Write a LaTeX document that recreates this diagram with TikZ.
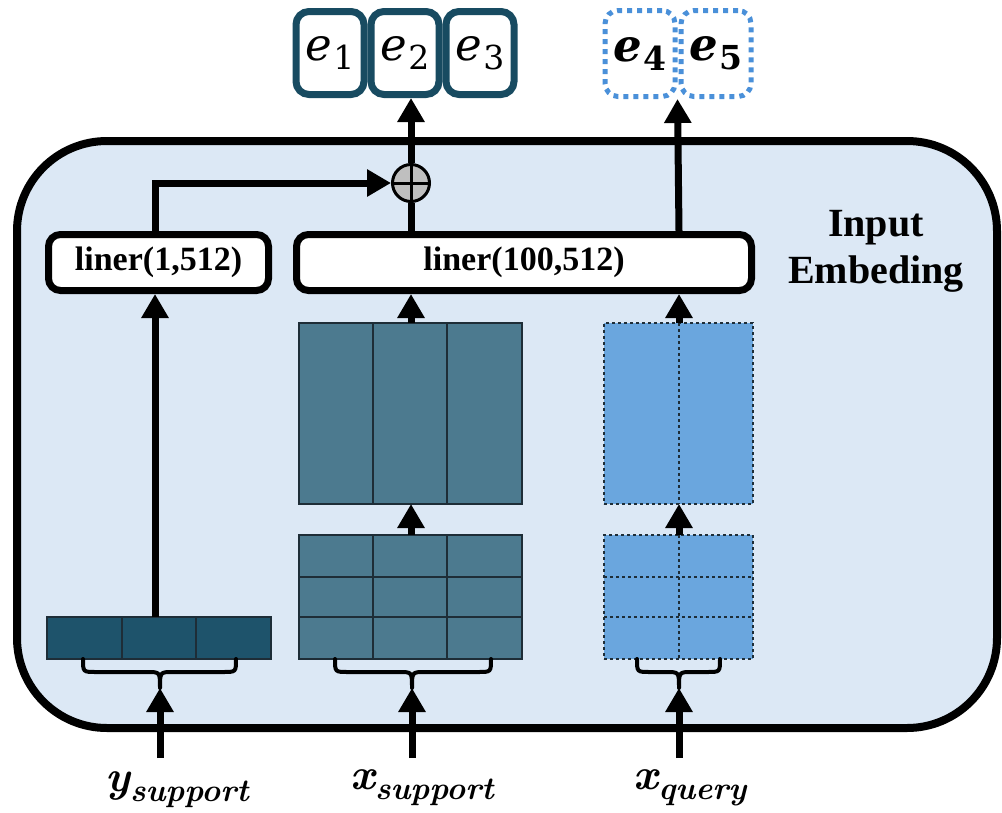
\documentclass[tikz,border=0pt]{standalone}
\usepackage{fontspec}
\newfontfamily\tnr{Liberation Serif}
\newfontfamily\dvs{DejaVu Serif}
\usetikzlibrary{arrows.meta,calc}
\definecolor{bgblue}{RGB}{220,232,245}
\definecolor{eborder}{RGB}{24,75,97}
\definecolor{ycell}{RGB}{30,83,107}
\definecolor{xcell}{RGB}{76,122,143}
\definecolor{qcell}{RGB}{106,166,222}
\definecolor{qdot}{RGB}{74,144,217}
\definecolor{cellline}{RGB}{30,45,55}
\definecolor{plusgray}{RGB}{191,191,191}
\newcommand\esub[2]{{\itshape #1}\kern1pt\raisebox{-9pt}{\fontsize{33}{34}\selectfont #2}}
\newcommand\lsub[2]{{\bfseries\itshape #1}\raisebox{-10pt}{\fontsize{32}{34}\selectfont\bfseries\itshape #2}}
\tikzset{
 arr/.style={line width=7pt, -{Triangle[width=26pt,length=24pt]}},
 ln/.style={line width=7pt},
 linerbox/.style={draw, line width=7pt, fill=white, rounded corners=12pt, minimum height=56pt, inner sep=0pt, font=\tnr\bfseries\fontsize{34}{40}\selectfont},
 ebox/.style={draw=eborder, line width=7pt, fill=white, rounded corners=13pt, minimum width=68pt, minimum height=83pt, inner sep=0pt, font=\dvs\fontsize{45}{50}\selectfont},
 qbox/.style={draw=qdot, line width=5pt, dash pattern=on 5pt off 5pt, fill=white, rounded corners=13pt, minimum width=70pt, minimum height=86pt, inner sep=0pt, font=\dvs\fontsize{45}{50}\selectfont\bfseries},
 brace/.style={line width=4pt, line cap=round, line join=round},
 lbl/.style={inner sep=0pt, font=\fontsize{44}{48}\selectfont},
 blockS/.style={fill=xcell, draw=cellline, line width=1.3pt, inner sep=0pt, outer sep=0pt},
 blockY/.style={fill=ycell, draw=cellline, line width=1.3pt, inner sep=0pt, outer sep=0pt},
 blockQ/.style={fill=qcell, draw=cellline, line width=1.2pt, dashed, inner sep=0pt, outer sep=0pt},
 gridS/.style={draw=cellline, line width=1.3pt},
 gridQ/.style={draw=cellline, line width=1.2pt, dashed},
}
\begin{document}
\begin{tikzpicture}[x=1pt,y=-1pt]
\useasboundingbox (0,0) rectangle (1002,812);

% outer frame
\node[draw, line width=8pt, fill=bgblue, rounded corners=90pt, minimum width=980pt, minimum height=587pt, inner sep=0pt] (frame) at (507,434.5) {};

\node[inner sep=0pt, align=center, font=\tnr\bfseries\fontsize{40}{47}\selectfont] (title) at (876,251) {Input\\Embeding};

% linear layers
\node[linerbox, minimum width=220pt] (l1) at (158.5,262.5) {liner(1,512)};
\node[linerbox, minimum width=455pt] (l2) at (524,262.5) {liner(100,512)};

% output embeddings
\node[ebox] (e1) at (330,53) {\esub{e}{1}};
\node[ebox] (e2) at (405,53) {\esub{e}{2}};
\node[ebox] (e3) at (480,53) {\esub{e}{3}};
\node[qbox] (e4) at (640,53.5) {\esub{e}{4}};
\node[qbox] (e5) at (716,53.5) {\esub{e}{5}};

% data blocks
\node[blockY, minimum width=224pt, minimum height=42pt] (ys) at (159,638) {};
\draw[gridS] (122,617) -- (122,659) (196,617) -- (196,659);

\node[blockS, minimum width=223pt, minimum height=181pt] (xsU) at (410.5,413.5) {};
\draw[gridS] (373,323) -- (373,504) (447,323) -- (447,504);
\node[blockS, minimum width=223pt, minimum height=124pt] (xsL) at (410.5,597) {};
\draw[gridS] (373,535) -- (373,659) (447,535) -- (447,659)
  (299,577) -- (522,577) (299,617) -- (522,617);

\node[blockQ, minimum width=149pt, minimum height=181pt] (xqU) at (678.5,413.5) {};
\draw[gridQ] (679,323) -- (679,504);
\node[blockQ, minimum width=149pt, minimum height=124pt] (xqL) at (678.5,597) {};
\draw[gridQ] (679,535) -- (679,659) (604,577) -- (753,577) (604,617) -- (753,617);

% connectors
\coordinate (ycol) at (155,0);
\coordinate (scol) at (411,0);
\coordinate (qcol) at (679,0);
\node[circle, draw, line width=3pt, fill=plusgray, minimum size=37pt, inner sep=0pt] (plus) at (411,183) {};
\draw[arr] (ys.north -| ycol) -- (l1.south -| ycol);
\draw[arr] (l1.north -| ycol) |- (plus.west);
\draw[ln] (l2.north -| scol) -- (plus.south);
\draw[arr] (plus.north) -- (e2.south -| scol);
\draw[line width=3pt] (plus.north) -- (plus.south) (plus.west) -- (plus.east);
\draw[arr] (l2.north -| qcol) -- (e4.south east);
\draw[arr] (xsL.north -| scol) -- (xsU.south -| scol);
\draw[arr] (xqL.north -| qcol) -- (xqU.south -| qcol);
\draw[arr] (xsU.north -| scol) -- (l2.south -| scol);
\draw[arr] (xqU.north -| qcol) -- (l2.south -| qcol);

% braces
\draw[brace] (83,659) .. controls (83,672) .. (96,672) -- (147,672) .. controls (160,672) .. (160,688) .. controls (160,672) .. (173,672) -- (223,672) .. controls (236,672) .. (236,659);
\draw[brace] (335,659) .. controls (335,672) .. (348,672) -- (399,672) .. controls (412,672) .. (412,688) .. controls (412,672) .. (425,672) -- (478,672) .. controls (491,672) .. (491,659);
\draw[brace] (637,659) .. controls (637,672) .. (650,672) -- (666,672) .. controls (679,672) .. (679,688) .. controls (679,672) .. (692,672) -- (707,672) .. controls (720,672) .. (720,659);

\coordinate (ytip) at (160,688);
\coordinate (stip) at (412,688);
\coordinate (qtip) at (679,688);
\coordinate (yin) at (160,758);
\coordinate (sin) at (412,758);
\coordinate (qin) at (679,758);
\draw[arr] (yin) -- (ytip);
\draw[arr] (sin) -- (stip);
\draw[arr] (qin) -- (qtip);

% labels
\node[lbl] (ylab) at (177,790) {\lsub{y}{support}};
\node[lbl] (xlab) at (422,788) {\lsub{x}{support}};
\node[lbl] (qlab) at (690,788) {\lsub{x}{query}};
\end{tikzpicture}
\end{document}
